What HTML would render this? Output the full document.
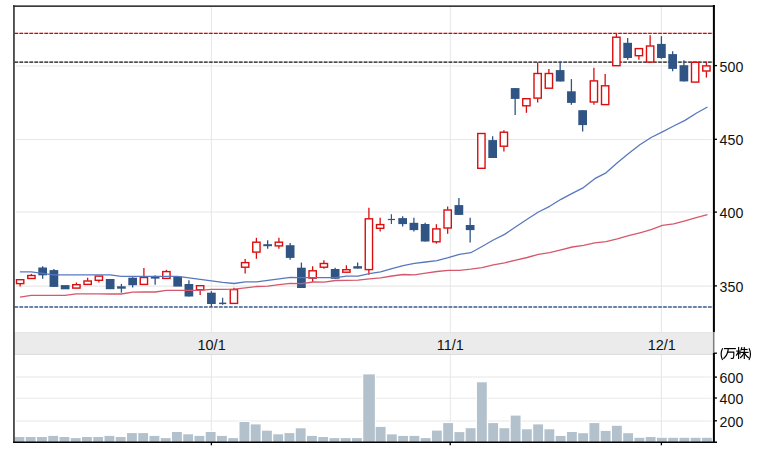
<!DOCTYPE html>
<html><head><meta charset="utf-8"><title>chart</title>
<style>html,body{margin:0;padding:0;background:#fff;overflow:hidden}body{width:762px;height:453px;font-family:"Liberation Sans",sans-serif}</style>
</head><body>
<svg width="762" height="453" viewBox="0 0 762 453" style="display:block">
<rect x="0" y="0" width="762" height="453" fill="#ffffff"/>
<line x1="16" y1="65.9" x2="711.8" y2="65.9" stroke="#e8e8e8" stroke-width="1.05"/>
<line x1="16" y1="139.5" x2="711.8" y2="139.5" stroke="#e8e8e8" stroke-width="1.05"/>
<line x1="16" y1="212.0" x2="711.8" y2="212.0" stroke="#e8e8e8" stroke-width="1.05"/>
<line x1="16" y1="286.1" x2="711.8" y2="286.1" stroke="#e8e8e8" stroke-width="1.05"/>
<line x1="16" y1="377.0" x2="711.8" y2="377.0" stroke="#e8e8e8" stroke-width="1.05"/>
<line x1="16" y1="398.3" x2="711.8" y2="398.3" stroke="#e8e8e8" stroke-width="1.05"/>
<line x1="16" y1="420.9" x2="711.8" y2="420.9" stroke="#e8e8e8" stroke-width="1.05"/>
<line x1="211.4" y1="6.5" x2="211.4" y2="332" stroke="#e8e8e8" stroke-width="1.05"/>
<line x1="211.4" y1="355" x2="211.4" y2="441.5" stroke="#e8e8e8" stroke-width="1.05"/>
<line x1="450.3" y1="6.5" x2="450.3" y2="332" stroke="#e8e8e8" stroke-width="1.05"/>
<line x1="450.3" y1="355" x2="450.3" y2="441.5" stroke="#e8e8e8" stroke-width="1.05"/>
<line x1="661.4" y1="6.5" x2="661.4" y2="332" stroke="#e8e8e8" stroke-width="1.05"/>
<line x1="661.4" y1="355" x2="661.4" y2="441.5" stroke="#e8e8e8" stroke-width="1.05"/>
<rect x="14" y="332.3" width="699.5" height="22.5" fill="#ebebeb"/>
<line x1="14" y1="354.4" x2="713.5" y2="354.4" stroke="#dcdcdc" stroke-width="1"/>
<line x1="14" y1="332.6" x2="713.5" y2="332.6" stroke="#e4e4e4" stroke-width="1"/>
<rect x="14.90" y="436.1" width="10.35" height="5.9" fill="#ffffff"/>
<rect x="24.85" y="436.1" width="11.65" height="5.9" fill="#ffffff"/>
<rect x="36.10" y="436.1" width="11.65" height="5.9" fill="#ffffff"/>
<rect x="47.35" y="435.0" width="11.65" height="7.0" fill="#ffffff"/>
<rect x="58.60" y="436.1" width="11.65" height="5.9" fill="#ffffff"/>
<rect x="69.85" y="437.2" width="11.65" height="4.8" fill="#ffffff"/>
<rect x="81.10" y="436.1" width="11.65" height="5.9" fill="#ffffff"/>
<rect x="92.35" y="436.1" width="11.65" height="5.9" fill="#ffffff"/>
<rect x="103.60" y="435.0" width="11.65" height="7.0" fill="#ffffff"/>
<rect x="114.85" y="436.1" width="11.65" height="5.9" fill="#ffffff"/>
<rect x="126.10" y="432.2" width="11.65" height="9.8" fill="#ffffff"/>
<rect x="137.35" y="432.2" width="11.65" height="9.8" fill="#ffffff"/>
<rect x="148.60" y="435.0" width="11.65" height="7.0" fill="#ffffff"/>
<rect x="159.85" y="437.2" width="11.65" height="4.8" fill="#ffffff"/>
<rect x="171.10" y="431.1" width="11.65" height="10.9" fill="#ffffff"/>
<rect x="182.35" y="433.4" width="11.65" height="8.6" fill="#ffffff"/>
<rect x="193.60" y="435.0" width="11.65" height="7.0" fill="#ffffff"/>
<rect x="204.85" y="431.1" width="11.65" height="10.9" fill="#ffffff"/>
<rect x="216.10" y="435.0" width="11.65" height="7.0" fill="#ffffff"/>
<rect x="227.35" y="437.2" width="11.65" height="4.8" fill="#ffffff"/>
<rect x="238.60" y="421.1" width="11.65" height="20.9" fill="#ffffff"/>
<rect x="249.85" y="423.5" width="11.65" height="18.5" fill="#ffffff"/>
<rect x="261.10" y="429.8" width="11.65" height="12.2" fill="#ffffff"/>
<rect x="272.35" y="433.4" width="11.65" height="8.6" fill="#ffffff"/>
<rect x="283.60" y="432.2" width="11.65" height="9.8" fill="#ffffff"/>
<rect x="294.85" y="427.4" width="11.65" height="14.6" fill="#ffffff"/>
<rect x="306.10" y="435.0" width="11.65" height="7.0" fill="#ffffff"/>
<rect x="317.35" y="436.1" width="11.65" height="5.9" fill="#ffffff"/>
<rect x="328.60" y="437.2" width="11.65" height="4.8" fill="#ffffff"/>
<rect x="339.85" y="437.2" width="11.65" height="4.8" fill="#ffffff"/>
<rect x="351.10" y="437.2" width="11.65" height="4.8" fill="#ffffff"/>
<rect x="362.35" y="373.5" width="13.40" height="68.5" fill="#ffffff"/>
<rect x="374.80" y="426.0" width="11.65" height="16.0" fill="#ffffff"/>
<rect x="386.05" y="433.5" width="11.65" height="8.5" fill="#ffffff"/>
<rect x="397.30" y="435.0" width="11.65" height="7.0" fill="#ffffff"/>
<rect x="408.55" y="435.0" width="11.65" height="7.0" fill="#ffffff"/>
<rect x="419.80" y="437.2" width="11.65" height="4.8" fill="#ffffff"/>
<rect x="431.05" y="429.7" width="11.65" height="12.3" fill="#ffffff"/>
<rect x="442.30" y="422.2" width="11.65" height="19.8" fill="#ffffff"/>
<rect x="453.55" y="431.2" width="11.65" height="10.8" fill="#ffffff"/>
<rect x="464.80" y="427.3" width="11.65" height="14.7" fill="#ffffff"/>
<rect x="476.05" y="381.4" width="11.65" height="60.6" fill="#ffffff"/>
<rect x="487.30" y="422.2" width="11.65" height="19.8" fill="#ffffff"/>
<rect x="498.55" y="427.3" width="11.65" height="14.7" fill="#ffffff"/>
<rect x="509.80" y="414.7" width="11.65" height="27.3" fill="#ffffff"/>
<rect x="521.05" y="428.4" width="11.65" height="13.6" fill="#ffffff"/>
<rect x="532.30" y="423.5" width="11.65" height="18.5" fill="#ffffff"/>
<rect x="543.55" y="428.4" width="11.65" height="13.6" fill="#ffffff"/>
<rect x="554.80" y="435.0" width="11.65" height="7.0" fill="#ffffff"/>
<rect x="566.05" y="431.1" width="11.65" height="10.9" fill="#ffffff"/>
<rect x="577.30" y="432.3" width="11.65" height="9.7" fill="#ffffff"/>
<rect x="588.55" y="422.2" width="11.65" height="19.8" fill="#ffffff"/>
<rect x="599.80" y="430.0" width="11.65" height="12.0" fill="#ffffff"/>
<rect x="611.05" y="424.9" width="11.65" height="17.1" fill="#ffffff"/>
<rect x="622.30" y="432.3" width="11.65" height="9.7" fill="#ffffff"/>
<rect x="633.55" y="436.9" width="11.65" height="5.1" fill="#ffffff"/>
<rect x="644.80" y="436.1" width="11.65" height="5.9" fill="#ffffff"/>
<rect x="656.05" y="436.9" width="11.65" height="5.1" fill="#ffffff"/>
<rect x="667.30" y="436.9" width="11.65" height="5.1" fill="#ffffff"/>
<rect x="678.55" y="436.9" width="11.65" height="5.1" fill="#ffffff"/>
<rect x="689.80" y="436.9" width="11.65" height="5.1" fill="#ffffff"/>
<rect x="701.05" y="436.9" width="11.65" height="5.1" fill="#ffffff"/>
<rect x="14.50" y="437.0" width="9.85" height="5.0" fill="#b3c1cc"/>
<rect x="25.75" y="437.0" width="9.85" height="5.0" fill="#b3c1cc"/>
<rect x="37.00" y="437.0" width="9.85" height="5.0" fill="#b3c1cc"/>
<rect x="48.25" y="435.9" width="9.85" height="6.1" fill="#b3c1cc"/>
<rect x="59.50" y="437.0" width="9.85" height="5.0" fill="#b3c1cc"/>
<rect x="70.75" y="438.1" width="9.85" height="3.9" fill="#b3c1cc"/>
<rect x="82.00" y="437.0" width="9.85" height="5.0" fill="#b3c1cc"/>
<rect x="93.25" y="437.0" width="9.85" height="5.0" fill="#b3c1cc"/>
<rect x="104.50" y="435.9" width="9.85" height="6.1" fill="#b3c1cc"/>
<rect x="115.75" y="437.0" width="9.85" height="5.0" fill="#b3c1cc"/>
<rect x="127.00" y="433.1" width="9.85" height="8.9" fill="#b3c1cc"/>
<rect x="138.25" y="433.1" width="9.85" height="8.9" fill="#b3c1cc"/>
<rect x="149.50" y="435.9" width="9.85" height="6.1" fill="#b3c1cc"/>
<rect x="160.75" y="438.1" width="9.85" height="3.9" fill="#b3c1cc"/>
<rect x="172.00" y="432.0" width="9.85" height="10.0" fill="#b3c1cc"/>
<rect x="183.25" y="434.3" width="9.85" height="7.7" fill="#b3c1cc"/>
<rect x="194.50" y="435.9" width="9.85" height="6.1" fill="#b3c1cc"/>
<rect x="205.75" y="432.0" width="9.85" height="10.0" fill="#b3c1cc"/>
<rect x="217.00" y="435.9" width="9.85" height="6.1" fill="#b3c1cc"/>
<rect x="228.25" y="438.1" width="9.85" height="3.9" fill="#b3c1cc"/>
<rect x="239.50" y="422.0" width="9.85" height="20.0" fill="#b3c1cc"/>
<rect x="250.75" y="424.4" width="9.85" height="17.6" fill="#b3c1cc"/>
<rect x="262.00" y="430.7" width="9.85" height="11.3" fill="#b3c1cc"/>
<rect x="273.25" y="434.3" width="9.85" height="7.7" fill="#b3c1cc"/>
<rect x="284.50" y="433.1" width="9.85" height="8.9" fill="#b3c1cc"/>
<rect x="295.75" y="428.3" width="9.85" height="13.7" fill="#b3c1cc"/>
<rect x="307.00" y="435.9" width="9.85" height="6.1" fill="#b3c1cc"/>
<rect x="318.25" y="437.0" width="9.85" height="5.0" fill="#b3c1cc"/>
<rect x="329.50" y="438.1" width="9.85" height="3.9" fill="#b3c1cc"/>
<rect x="340.75" y="438.1" width="9.85" height="3.9" fill="#b3c1cc"/>
<rect x="352.00" y="438.1" width="9.85" height="3.9" fill="#b3c1cc"/>
<rect x="363.25" y="374.4" width="11.6" height="67.6" fill="#b3c1cc"/>
<rect x="375.70" y="426.9" width="9.85" height="15.1" fill="#b3c1cc"/>
<rect x="386.95" y="434.4" width="9.85" height="7.6" fill="#b3c1cc"/>
<rect x="398.20" y="435.9" width="9.85" height="6.1" fill="#b3c1cc"/>
<rect x="409.45" y="435.9" width="9.85" height="6.1" fill="#b3c1cc"/>
<rect x="420.70" y="438.1" width="9.85" height="3.9" fill="#b3c1cc"/>
<rect x="431.95" y="430.6" width="9.85" height="11.4" fill="#b3c1cc"/>
<rect x="443.20" y="423.1" width="9.85" height="18.9" fill="#b3c1cc"/>
<rect x="454.45" y="432.1" width="9.85" height="9.9" fill="#b3c1cc"/>
<rect x="465.70" y="428.2" width="9.85" height="13.8" fill="#b3c1cc"/>
<rect x="476.95" y="382.3" width="9.85" height="59.7" fill="#b3c1cc"/>
<rect x="488.20" y="423.1" width="9.85" height="18.9" fill="#b3c1cc"/>
<rect x="499.45" y="428.2" width="9.85" height="13.8" fill="#b3c1cc"/>
<rect x="510.70" y="415.6" width="9.85" height="26.4" fill="#b3c1cc"/>
<rect x="521.95" y="429.3" width="9.85" height="12.7" fill="#b3c1cc"/>
<rect x="533.20" y="424.4" width="9.85" height="17.6" fill="#b3c1cc"/>
<rect x="544.45" y="429.3" width="9.85" height="12.7" fill="#b3c1cc"/>
<rect x="555.70" y="435.9" width="9.85" height="6.1" fill="#b3c1cc"/>
<rect x="566.95" y="432.0" width="9.85" height="10.0" fill="#b3c1cc"/>
<rect x="578.20" y="433.2" width="9.85" height="8.8" fill="#b3c1cc"/>
<rect x="589.45" y="423.1" width="9.85" height="18.9" fill="#b3c1cc"/>
<rect x="600.70" y="430.9" width="9.85" height="11.1" fill="#b3c1cc"/>
<rect x="611.95" y="425.8" width="9.85" height="16.2" fill="#b3c1cc"/>
<rect x="623.20" y="433.2" width="9.85" height="8.8" fill="#b3c1cc"/>
<rect x="634.45" y="437.8" width="9.85" height="4.2" fill="#b3c1cc"/>
<rect x="645.70" y="437.0" width="9.85" height="5.0" fill="#b3c1cc"/>
<rect x="656.95" y="437.8" width="9.85" height="4.2" fill="#b3c1cc"/>
<rect x="668.20" y="437.8" width="9.85" height="4.2" fill="#b3c1cc"/>
<rect x="679.45" y="437.8" width="9.85" height="4.2" fill="#b3c1cc"/>
<rect x="690.70" y="437.8" width="9.85" height="4.2" fill="#b3c1cc"/>
<rect x="701.95" y="437.8" width="9.85" height="4.2" fill="#b3c1cc"/>
<line x1="14.4" y1="33.4" x2="713" y2="33.4" stroke="#d80000" stroke-width="1.2" opacity="0.2"/>
<line x1="14.45" y1="33.4" x2="713" y2="33.4" stroke="#d80000" stroke-width="1.4" stroke-dasharray="3.6,1.39"/>
<line x1="14.4" y1="62.1" x2="713" y2="62.1" stroke="#1c1c1c" stroke-width="1.2" opacity="0.2"/>
<line x1="14.45" y1="62.1" x2="713" y2="62.1" stroke="#1c1c1c" stroke-width="1.4" stroke-dasharray="3.6,1.39"/>
<line x1="14.4" y1="307.0" x2="713" y2="307.0" stroke="#3f5f8f" stroke-width="1.2" opacity="0.2"/>
<line x1="14.45" y1="307.0" x2="713" y2="307.0" stroke="#3f5f8f" stroke-width="1.4" stroke-dasharray="3.6,1.39"/>
<line x1="20.15" y1="283.8" x2="20.15" y2="286.5" stroke="#da0e0e" stroke-width="1.3"/>
<rect x="16.50" y="279.70" width="7.30" height="3.90" fill="#ffffff" stroke="#da0e0e" stroke-width="1.4"/>
<line x1="31.40" y1="273.9" x2="31.40" y2="275.3" stroke="#da0e0e" stroke-width="1.3"/>
<rect x="27.75" y="275.50" width="7.30" height="3.00" fill="#ffffff" stroke="#da0e0e" stroke-width="1.4"/>
<line x1="42.65" y1="266.3" x2="42.65" y2="278.8" stroke="#305484" stroke-width="1.3"/>
<rect x="38.30" y="267.5" width="8.7" height="7.80" fill="#305484"/>
<line x1="53.90" y1="268.9" x2="53.90" y2="286.9" stroke="#305484" stroke-width="1.3"/>
<rect x="49.55" y="270.1" width="8.7" height="16.80" fill="#305484"/>
<rect x="60.80" y="285.1" width="8.7" height="4.20" fill="#305484"/>
<line x1="76.40" y1="282.5" x2="76.40" y2="284.5" stroke="#da0e0e" stroke-width="1.3"/>
<rect x="72.75" y="284.70" width="7.30" height="3.40" fill="#ffffff" stroke="#da0e0e" stroke-width="1.4"/>
<line x1="87.65" y1="277.8" x2="87.65" y2="280.8" stroke="#da0e0e" stroke-width="1.3"/>
<rect x="84.00" y="281.00" width="7.30" height="3.40" fill="#ffffff" stroke="#da0e0e" stroke-width="1.4"/>
<line x1="98.90" y1="280.5" x2="98.90" y2="282.5" stroke="#da0e0e" stroke-width="1.3"/>
<rect x="95.25" y="276.10" width="7.30" height="4.20" fill="#ffffff" stroke="#da0e0e" stroke-width="1.4"/>
<rect x="105.80" y="279.0" width="8.7" height="10.20" fill="#305484"/>
<line x1="121.40" y1="283.9" x2="121.40" y2="292.7" stroke="#305484" stroke-width="1.3"/>
<rect x="117.05" y="286.3" width="8.7" height="2.40" fill="#305484"/>
<line x1="132.65" y1="277.3" x2="132.65" y2="287.5" stroke="#305484" stroke-width="1.3"/>
<rect x="128.30" y="277.7" width="8.7" height="7.50" fill="#305484"/>
<line x1="143.90" y1="268.0" x2="143.90" y2="277.3" stroke="#da0e0e" stroke-width="1.3"/>
<rect x="140.25" y="277.50" width="7.30" height="6.90" fill="#ffffff" stroke="#da0e0e" stroke-width="1.4"/>
<line x1="155.15" y1="275.3" x2="155.15" y2="284.8" stroke="#305484" stroke-width="1.3"/>
<rect x="150.80" y="276.2" width="8.7" height="2.40" fill="#305484"/>
<line x1="166.40" y1="269.9" x2="166.40" y2="271.4" stroke="#da0e0e" stroke-width="1.3"/>
<rect x="162.75" y="271.60" width="7.30" height="6.80" fill="#ffffff" stroke="#da0e0e" stroke-width="1.4"/>
<rect x="173.30" y="276.6" width="8.7" height="10.00" fill="#305484"/>
<line x1="188.90" y1="280.2" x2="188.90" y2="296.5" stroke="#305484" stroke-width="1.3"/>
<rect x="184.55" y="284.0" width="8.7" height="12.50" fill="#305484"/>
<line x1="200.15" y1="290.0" x2="200.15" y2="295.1" stroke="#da0e0e" stroke-width="1.3"/>
<rect x="196.50" y="285.70" width="7.30" height="4.10" fill="#ffffff" stroke="#da0e0e" stroke-width="1.4"/>
<line x1="211.40" y1="291.1" x2="211.40" y2="306.9" stroke="#305484" stroke-width="1.3"/>
<rect x="207.05" y="292.7" width="8.7" height="11.30" fill="#305484"/>
<line x1="222.65" y1="297.8" x2="222.65" y2="304.7" stroke="#305484" stroke-width="1.2"/>
<rect x="219.05" y="302.6" width="7.2" height="1.50" fill="#305484"/>
<line x1="233.90" y1="287.8" x2="233.90" y2="289.4" stroke="#da0e0e" stroke-width="1.3"/>
<rect x="230.25" y="289.60" width="7.30" height="13.80" fill="#ffffff" stroke="#da0e0e" stroke-width="1.4"/>
<line x1="245.15" y1="259.1" x2="245.15" y2="262.4" stroke="#da0e0e" stroke-width="1.3"/>
<line x1="245.15" y1="267.4" x2="245.15" y2="273.6" stroke="#da0e0e" stroke-width="1.3"/>
<rect x="241.50" y="262.60" width="7.30" height="4.60" fill="#ffffff" stroke="#da0e0e" stroke-width="1.4"/>
<line x1="256.40" y1="237.8" x2="256.40" y2="242.0" stroke="#da0e0e" stroke-width="1.3"/>
<line x1="256.40" y1="252.3" x2="256.40" y2="258.8" stroke="#da0e0e" stroke-width="1.3"/>
<rect x="252.75" y="242.20" width="7.30" height="9.90" fill="#ffffff" stroke="#da0e0e" stroke-width="1.4"/>
<line x1="267.65" y1="240.2" x2="267.65" y2="248.8" stroke="#305484" stroke-width="1.3"/>
<rect x="263.30" y="244.2" width="8.7" height="2.00" fill="#305484"/>
<line x1="278.90" y1="237.8" x2="278.90" y2="242.0" stroke="#da0e0e" stroke-width="1.3"/>
<line x1="278.90" y1="246.1" x2="278.90" y2="248.8" stroke="#da0e0e" stroke-width="1.3"/>
<rect x="275.25" y="242.20" width="7.30" height="3.70" fill="#ffffff" stroke="#da0e0e" stroke-width="1.4"/>
<line x1="290.15" y1="242.9" x2="290.15" y2="259.8" stroke="#305484" stroke-width="1.3"/>
<rect x="285.80" y="245.2" width="8.7" height="12.70" fill="#305484"/>
<line x1="301.40" y1="262.6" x2="301.40" y2="288.0" stroke="#305484" stroke-width="1.3"/>
<rect x="297.05" y="267.7" width="8.7" height="20.30" fill="#305484"/>
<line x1="312.65" y1="266.2" x2="312.65" y2="270.6" stroke="#da0e0e" stroke-width="1.3"/>
<line x1="312.65" y1="278.3" x2="312.65" y2="282.1" stroke="#da0e0e" stroke-width="1.3"/>
<rect x="309.00" y="270.80" width="7.30" height="7.30" fill="#ffffff" stroke="#da0e0e" stroke-width="1.4"/>
<line x1="323.90" y1="260.2" x2="323.90" y2="263.3" stroke="#da0e0e" stroke-width="1.3"/>
<line x1="323.90" y1="267.4" x2="323.90" y2="268.8" stroke="#da0e0e" stroke-width="1.3"/>
<rect x="320.25" y="263.50" width="7.30" height="3.70" fill="#ffffff" stroke="#da0e0e" stroke-width="1.4"/>
<line x1="335.15" y1="267.8" x2="335.15" y2="278.8" stroke="#305484" stroke-width="1.3"/>
<rect x="330.80" y="269.0" width="8.7" height="9.80" fill="#305484"/>
<line x1="346.40" y1="265.3" x2="346.40" y2="269.5" stroke="#da0e0e" stroke-width="1.3"/>
<rect x="342.75" y="269.70" width="7.30" height="2.50" fill="#ffffff" stroke="#da0e0e" stroke-width="1.4"/>
<line x1="357.65" y1="262.6" x2="357.65" y2="268.6" stroke="#305484" stroke-width="1.3"/>
<rect x="353.30" y="266.2" width="8.7" height="2.40" fill="#305484"/>
<line x1="368.90" y1="207.8" x2="368.90" y2="218.6" stroke="#da0e0e" stroke-width="1.3"/>
<line x1="368.90" y1="269.8" x2="368.90" y2="274.8" stroke="#da0e0e" stroke-width="1.3"/>
<rect x="365.25" y="218.80" width="7.30" height="50.80" fill="#ffffff" stroke="#da0e0e" stroke-width="1.4"/>
<line x1="380.15" y1="217.8" x2="380.15" y2="224.4" stroke="#da0e0e" stroke-width="1.3"/>
<line x1="380.15" y1="228.5" x2="380.15" y2="231.4" stroke="#da0e0e" stroke-width="1.3"/>
<rect x="376.50" y="224.60" width="7.30" height="3.70" fill="#ffffff" stroke="#da0e0e" stroke-width="1.4"/>
<line x1="391.40" y1="214.2" x2="391.40" y2="223.9" stroke="#305484" stroke-width="1.2"/>
<rect x="387.80" y="218.9" width="7.2" height="1.20" fill="#305484"/>
<line x1="402.65" y1="216.2" x2="402.65" y2="226.5" stroke="#305484" stroke-width="1.3"/>
<rect x="398.30" y="218.1" width="8.7" height="6.00" fill="#305484"/>
<line x1="413.90" y1="217.8" x2="413.90" y2="231.4" stroke="#305484" stroke-width="1.3"/>
<rect x="409.55" y="222.8" width="8.7" height="7.30" fill="#305484"/>
<line x1="425.15" y1="222.8" x2="425.15" y2="241.5" stroke="#305484" stroke-width="1.3"/>
<rect x="420.80" y="224.0" width="8.7" height="17.50" fill="#305484"/>
<line x1="436.40" y1="224.2" x2="436.40" y2="228.7" stroke="#da0e0e" stroke-width="1.3"/>
<line x1="436.40" y1="242.0" x2="436.40" y2="243.6" stroke="#da0e0e" stroke-width="1.3"/>
<rect x="432.75" y="228.90" width="7.30" height="12.90" fill="#ffffff" stroke="#da0e0e" stroke-width="1.4"/>
<line x1="447.65" y1="206.6" x2="447.65" y2="209.8" stroke="#da0e0e" stroke-width="1.3"/>
<line x1="447.65" y1="228.2" x2="447.65" y2="233.7" stroke="#da0e0e" stroke-width="1.3"/>
<rect x="444.00" y="210.00" width="7.30" height="18.00" fill="#ffffff" stroke="#da0e0e" stroke-width="1.4"/>
<line x1="458.90" y1="197.9" x2="458.90" y2="214.9" stroke="#305484" stroke-width="1.3"/>
<rect x="454.55" y="205.1" width="8.7" height="9.80" fill="#305484"/>
<line x1="470.15" y1="217.8" x2="470.15" y2="242.6" stroke="#305484" stroke-width="1.3"/>
<rect x="465.80" y="225.0" width="8.7" height="5.10" fill="#305484"/>
<rect x="477.75" y="133.50" width="7.30" height="34.80" fill="#ffffff" stroke="#da0e0e" stroke-width="1.4"/>
<line x1="492.65" y1="136.2" x2="492.65" y2="158.0" stroke="#305484" stroke-width="1.3"/>
<rect x="488.30" y="140.1" width="8.7" height="17.90" fill="#305484"/>
<line x1="503.90" y1="130.2" x2="503.90" y2="132.0" stroke="#da0e0e" stroke-width="1.3"/>
<line x1="503.90" y1="146.4" x2="503.90" y2="151.4" stroke="#da0e0e" stroke-width="1.3"/>
<rect x="500.25" y="132.20" width="7.30" height="14.00" fill="#ffffff" stroke="#da0e0e" stroke-width="1.4"/>
<line x1="515.15" y1="88.1" x2="515.15" y2="115.0" stroke="#305484" stroke-width="1.3"/>
<rect x="510.80" y="88.1" width="8.7" height="10.80" fill="#305484"/>
<line x1="526.40" y1="106.0" x2="526.40" y2="112.8" stroke="#da0e0e" stroke-width="1.3"/>
<rect x="522.75" y="98.70" width="7.30" height="7.10" fill="#ffffff" stroke="#da0e0e" stroke-width="1.4"/>
<line x1="537.65" y1="62.3" x2="537.65" y2="73.3" stroke="#da0e0e" stroke-width="1.3"/>
<line x1="537.65" y1="98.3" x2="537.65" y2="102.5" stroke="#da0e0e" stroke-width="1.3"/>
<rect x="534.00" y="73.50" width="7.30" height="24.60" fill="#ffffff" stroke="#da0e0e" stroke-width="1.4"/>
<line x1="548.90" y1="68.9" x2="548.90" y2="73.3" stroke="#da0e0e" stroke-width="1.3"/>
<rect x="545.25" y="73.50" width="7.30" height="14.70" fill="#ffffff" stroke="#da0e0e" stroke-width="1.4"/>
<line x1="560.15" y1="61.6" x2="560.15" y2="81.5" stroke="#305484" stroke-width="1.3"/>
<rect x="555.80" y="70.1" width="8.7" height="11.40" fill="#305484"/>
<line x1="571.40" y1="79.1" x2="571.40" y2="104.8" stroke="#305484" stroke-width="1.3"/>
<rect x="567.05" y="91.3" width="8.7" height="11.60" fill="#305484"/>
<line x1="582.65" y1="110.2" x2="582.65" y2="131.4" stroke="#305484" stroke-width="1.3"/>
<rect x="578.30" y="110.2" width="8.7" height="14.90" fill="#305484"/>
<line x1="593.90" y1="67.8" x2="593.90" y2="80.7" stroke="#da0e0e" stroke-width="1.3"/>
<line x1="593.90" y1="102.2" x2="593.90" y2="104.8" stroke="#da0e0e" stroke-width="1.3"/>
<rect x="590.25" y="80.90" width="7.30" height="21.10" fill="#ffffff" stroke="#da0e0e" stroke-width="1.4"/>
<line x1="605.15" y1="73.9" x2="605.15" y2="85.6" stroke="#da0e0e" stroke-width="1.3"/>
<rect x="601.50" y="85.80" width="7.30" height="18.80" fill="#ffffff" stroke="#da0e0e" stroke-width="1.4"/>
<line x1="616.40" y1="33.2" x2="616.40" y2="37.0" stroke="#da0e0e" stroke-width="1.3"/>
<rect x="612.75" y="37.20" width="7.30" height="28.50" fill="#ffffff" stroke="#da0e0e" stroke-width="1.4"/>
<line x1="627.65" y1="38.0" x2="627.65" y2="59.8" stroke="#305484" stroke-width="1.3"/>
<rect x="623.30" y="42.8" width="8.7" height="15.20" fill="#305484"/>
<line x1="638.90" y1="55.9" x2="638.90" y2="59.8" stroke="#da0e0e" stroke-width="1.3"/>
<rect x="635.25" y="48.60" width="7.30" height="7.10" fill="#ffffff" stroke="#da0e0e" stroke-width="1.4"/>
<line x1="650.15" y1="35.2" x2="650.15" y2="45.8" stroke="#da0e0e" stroke-width="1.3"/>
<rect x="646.50" y="46.00" width="7.30" height="16.00" fill="#ffffff" stroke="#da0e0e" stroke-width="1.4"/>
<line x1="661.40" y1="36.1" x2="661.40" y2="58.8" stroke="#305484" stroke-width="1.3"/>
<rect x="657.05" y="43.9" width="8.7" height="14.10" fill="#305484"/>
<line x1="672.65" y1="51.3" x2="672.65" y2="71.3" stroke="#305484" stroke-width="1.3"/>
<rect x="668.30" y="54.1" width="8.7" height="14.80" fill="#305484"/>
<line x1="683.90" y1="60.2" x2="683.90" y2="81.4" stroke="#305484" stroke-width="1.3"/>
<rect x="679.55" y="65.2" width="8.7" height="16.20" fill="#305484"/>
<rect x="691.50" y="62.30" width="7.30" height="19.80" fill="#ffffff" stroke="#da0e0e" stroke-width="1.4"/>
<line x1="706.40" y1="61.6" x2="706.40" y2="65.7" stroke="#da0e0e" stroke-width="1.3"/>
<line x1="706.40" y1="71.2" x2="706.40" y2="77.6" stroke="#da0e0e" stroke-width="1.3"/>
<rect x="702.75" y="65.90" width="7.30" height="5.10" fill="#ffffff" stroke="#da0e0e" stroke-width="1.4"/>
<polyline points="19.90,297.1 31.17,295.4 42.44,295.4 53.72,295.4 64.99,295.4 76.26,293.8 87.53,293.8 98.80,293.8 110.08,294.0 121.35,294.0 132.62,292.2 143.89,292.0 155.16,292.0 166.44,290.4 177.71,290.4 188.98,290.4 200.25,290.3 211.52,289.3 222.80,289.4 234.07,289.2 245.34,287.8 256.61,286.5 267.88,286.1 279.16,284.6 290.43,283.4 301.70,283.6 312.97,282.0 324.24,282.1 335.52,280.5 346.79,280.3 358.06,280.1 369.33,278.8 380.60,277.9 391.88,276.0 403.15,274.5 414.42,274.8 425.69,273.2 436.96,271.5 448.24,270.3 459.51,270.3 470.78,269.2 482.05,267.7 493.32,264.8 504.60,262.8 515.87,260.1 527.14,257.5 538.41,254.3 549.68,252.6 560.96,249.9 572.23,247.0 583.50,245.3 594.77,242.8 606.04,241.6 617.32,238.8 628.59,235.7 639.86,232.8 651.13,229.7 662.40,225.4 673.68,223.8 684.95,220.8 696.22,217.7 707.49,214.7" fill="none" stroke="#d6586c" stroke-width="1.3" stroke-linejoin="round"/>
<polyline points="19.90,271.8 31.17,271.8 42.44,273.3 53.72,274.9 64.99,274.9 76.26,274.9 87.53,274.8 98.80,274.8 110.08,274.9 121.35,276.4 132.62,276.4 143.89,276.4 155.16,276.4 166.44,276.4 177.71,276.4 188.98,277.9 200.25,279.4 211.52,280.9 222.80,282.4 234.07,283.5 245.34,281.9 256.61,281.9 267.88,280.4 279.16,278.8 290.43,277.4 301.70,277.6 312.97,277.6 324.24,277.6 335.52,277.6 346.79,276.1 358.06,276.1 369.33,273.7 380.60,271.9 391.88,268.6 403.15,265.6 414.42,263.3 425.69,262.0 436.96,260.6 448.24,257.6 459.51,254.3 470.78,252.7 482.05,246.5 493.32,240.0 504.60,234.4 515.87,226.7 527.14,219.3 538.41,212.0 549.68,206.3 560.96,199.3 572.23,193.4 583.50,187.6 594.77,178.7 606.04,172.8 617.32,162.8 628.59,153.4 639.86,144.8 651.13,137.5 662.40,131.8 673.68,126.0 684.95,120.4 696.22,113.3 707.49,107.0" fill="none" stroke="#5878be" stroke-width="1.3" stroke-linejoin="round"/>
<line x1="13.95" y1="5.2" x2="13.95" y2="442.6" stroke="#343434" stroke-width="1.65"/>
<rect x="13.1" y="5.35" width="701.8" height="1.6" fill="#303030"/>
<line x1="713.9" y1="5.1" x2="713.9" y2="332.3" stroke="#000000" stroke-width="2"/>
<line x1="713.7" y1="332.3" x2="713.7" y2="354.3" stroke="#7c7c7c" stroke-width="1.5"/>
<line x1="713.9" y1="353" x2="713.9" y2="442.8" stroke="#000000" stroke-width="2"/>
<line x1="13.1" y1="442.2" x2="717" y2="442.2" stroke="#000000" stroke-width="1.4"/>
<line x1="714" y1="65.6" x2="717" y2="65.6" stroke="#000" stroke-width="1.3"/>
<line x1="714" y1="139.3" x2="717" y2="139.3" stroke="#000" stroke-width="1.3"/>
<line x1="714" y1="212.1" x2="717" y2="212.1" stroke="#000" stroke-width="1.3"/>
<line x1="714" y1="285.9" x2="717" y2="285.9" stroke="#000" stroke-width="1.3"/>
<line x1="714" y1="353.2" x2="717" y2="353.2" stroke="#000" stroke-width="1.3"/>
<line x1="714" y1="377.1" x2="717" y2="377.1" stroke="#000" stroke-width="1.3"/>
<line x1="714" y1="398.0" x2="717" y2="398.0" stroke="#000" stroke-width="1.3"/>
<line x1="714" y1="420.8" x2="717" y2="420.8" stroke="#000" stroke-width="1.3"/>
<line x1="211.4" y1="442" x2="211.4" y2="445.3" stroke="#000" stroke-width="1.3"/>
<line x1="450.2" y1="442" x2="450.2" y2="445.3" stroke="#000" stroke-width="1.3"/>
<line x1="661.4" y1="442" x2="661.4" y2="445.3" stroke="#000" stroke-width="1.3"/>
<text transform="translate(719.6,72.0) scale(1,1.06)" font-family="Liberation Sans, sans-serif" font-size="14.2" fill="#111111">500</text>
<text transform="translate(719.6,144.6) scale(1,1.06)" font-family="Liberation Sans, sans-serif" font-size="14.2" fill="#111111">450</text>
<text transform="translate(719.6,217.7) scale(1,1.06)" font-family="Liberation Sans, sans-serif" font-size="14.2" fill="#111111">400</text>
<text transform="translate(719.6,291.7) scale(1,1.06)" font-family="Liberation Sans, sans-serif" font-size="14.2" fill="#111111">350</text>
<text transform="translate(719.6,382.6) scale(1,1.06)" font-family="Liberation Sans, sans-serif" font-size="14.2" fill="#111111">600</text>
<text transform="translate(719.6,403.9) scale(1,1.06)" font-family="Liberation Sans, sans-serif" font-size="14.2" fill="#111111">400</text>
<text transform="translate(719.6,426.7) scale(1,1.06)" font-family="Liberation Sans, sans-serif" font-size="14.2" fill="#111111">200</text>
<text transform="translate(211.6,349.8) scale(1.02,1.07)" text-anchor="middle" font-family="Liberation Sans, sans-serif" font-size="14.2" fill="#111111">10/1</text>
<text transform="translate(450.2,349.8) scale(1.02,1.07)" text-anchor="middle" font-family="Liberation Sans, sans-serif" font-size="14.2" fill="#111111">11/1</text>
<text transform="translate(661.8,349.8) scale(1.02,1.07)" text-anchor="middle" font-family="Liberation Sans, sans-serif" font-size="14.2" fill="#111111">12/1</text>
<g stroke="#000000" stroke-width="1.15" fill="none" stroke-linecap="butt">
<path d="M722.6 348.2 Q719.6 354.1 722.6 360"/>
<path d="M749 348.2 Q752 354.1 749 360"/>
<path d="M723.9 348.6 H735.9"/>
<path d="M728.3 348.6 Q727.8 355 723.4 358.8"/>
<path d="M727.3 352.1 H733.8 Q733.9 357 733.4 357.9 Q733 358.6 730.7 358.4"/>
<path d="M736.2 351.1 H740.9"/>
<path d="M738.6 347.1 V358.9"/>
<path d="M738.6 351.3 Q737.8 353.8 736.1 355.7"/>
<path d="M738.7 352 L740.5 354.4"/>
<path d="M741.9 347.2 Q741.6 349 740.8 350.4"/>
<path d="M741.3 349.5 H747.6"/>
<path d="M740.1 352.4 H748.6"/>
<path d="M744.3 347.1 V359"/>
<path d="M744.2 352.7 Q742.8 355.8 740.1 358"/>
<path d="M744.4 352.7 Q745.8 355.8 748.8 358"/>
</g>
</svg>
</body></html>
